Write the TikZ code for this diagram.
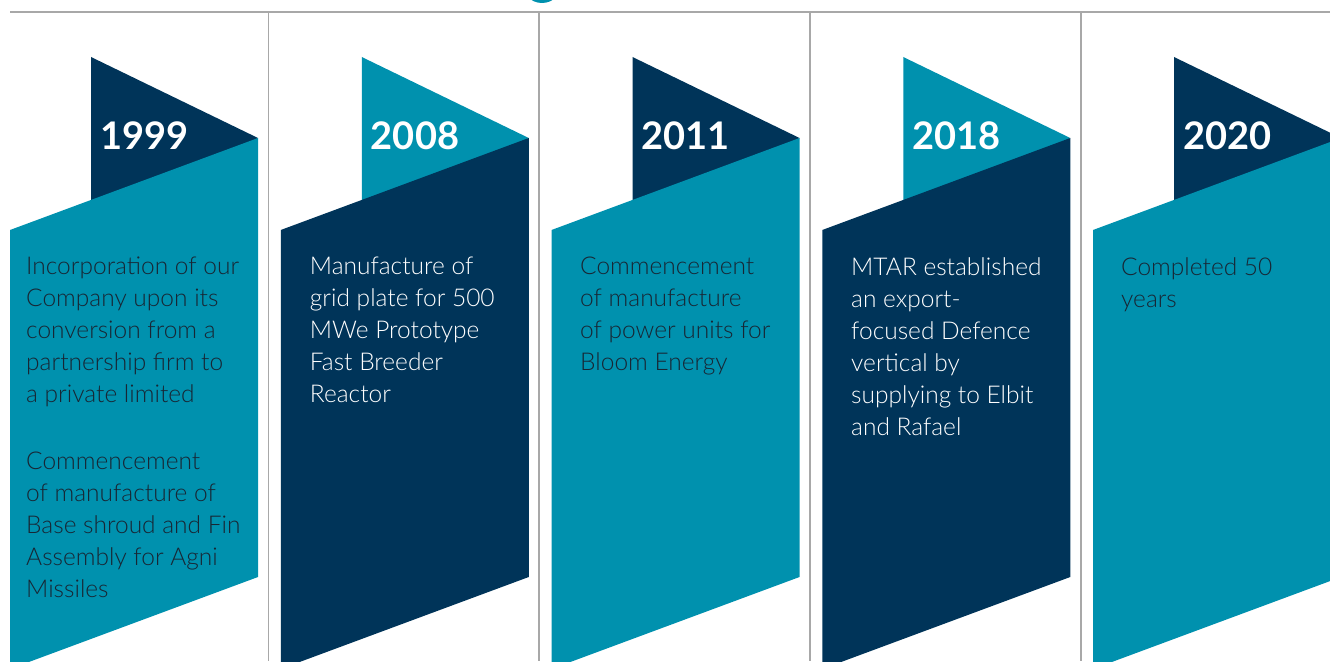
\documentclass[tikz,border=0pt]{standalone}
\usepackage{fontspec}
\setmainfont{Lato}
\IfFontExistsTF{Lato Light}{\newfontfamily\lightfont{Lato Light}}{\newcommand\lightfont{}}
\usetikzlibrary{positioning}
\definecolor{mtnavy}{RGB}{0,52,89}
\definecolor{mtteal}{RGB}{0,145,174}
\definecolor{inkdark}{RGB}{24,38,52}
\definecolor{rulegray}{RGB}{168,168,168}
\tikzset{
  yearlabel/.style={font=\bfseries\fontsize{38}{38}\selectfont, text=white, inner sep=0pt, anchor=base west},
  bodytext/.style={font=\lightfont\fontsize{24.5}{32}\selectfont, align=left, inner sep=0pt, anchor=north west,
    execute at begin node={\rule{0pt}{20pt}}},
  rule/.style={draw=rulegray, line width=1.6pt}
}

\begin{document}
\begin{tikzpicture}[x=1pt,y=-1pt]
\useasboundingbox (0,0) rectangle (1330,661);
\clip (0,0) rectangle (1330,661);
\fill[mtteal] (542,-17) circle (20);
\draw[rule] (10,12) -- (1330,12);
\foreach \i in {1,...,4}
  \draw[rule] ({268.5+270.75*(\i-1)},12) -- ++(0,649);
\foreach \i/\yr/\bodycol/\tricol/\txtcol/\dx/\txt in {
  1/1999/mtteal/mtnavy/inkdark/16/{Incorporation of our\\Company upon its\\conversion from a\\partnership firm to\\a private limited\\[35pt]Commencement\\of manufacture of\\Base shroud and Fin\\Assembly for Agni\\Missiles},
  2/2008/mtnavy/mtteal/white/29/{Manufacture of\\grid plate for 500\\MWe Prototype\\Fast Breeder\\Reactor},
  3/2011/mtteal/mtnavy/inkdark/28.5/{Commencement\\of manufacture\\of power units for\\Bloom Energy},
  4/2018/mtnavy/mtteal/white/28.75/{MTAR established\\an export-\\focused Defence\\vertical by\\supplying to Elbit\\and Rafael},
  5/2020/mtteal/mtnavy/inkdark/28/{Completed 50\\years}}{
  \pgfmathsetmacro{\ox}{10+270.75*(\i-1)}
  \fill[\tricol] (\ox+81,57) -- (\ox+248,138) -- (\ox+81,230) -- cycle;
  \fill[\bodycol] (\ox,230) -- (\ox+248,138) -- (\ox+248,577) -- (\ox,669) -- cycle;
  \node[yearlabel] (year\i) at (\ox+90,149) {\yr};
  \node[bodytext, text=\txtcol] (text\i) at (\ox+\dx,257) {\txt};
}
\end{tikzpicture}
\end{document}
